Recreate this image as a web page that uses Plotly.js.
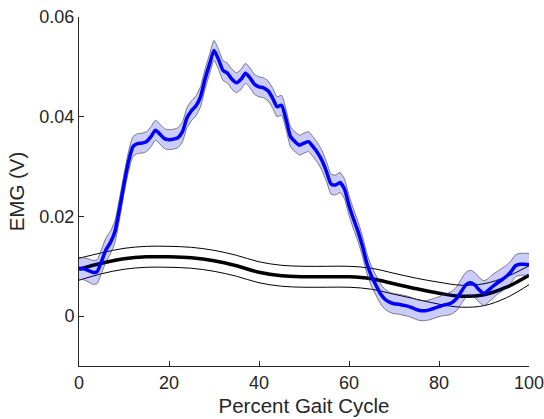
<!DOCTYPE html>
<html>
<head>
<meta charset="utf-8">
<script src="https://cdn.plot.ly/plotly-3.0.1.min.js"></script>
<style>html,body{margin:0;padding:0;background:#fff;}#chart{width:544px;height:419px;}</style>
</head>
<body>
<div id="chart"></div>
<script>
// Percent gait cycle for the blue (measured) EMG series
var xBlue = [];
for (var i = 0; i <= 100; i++) xBlue.push(i);
var blueMean = [
0.0096,0.0095,0.0092,0.0088,0.0089,0.0110,0.0133,0.0148,0.0170,0.0215,
0.0265,0.0310,0.0340,0.0346,0.0347,0.0350,0.0360,0.0373,0.0365,0.0356,
0.0354,0.0355,0.0358,0.0370,0.0398,0.0412,0.0422,0.0440,0.0475,0.0505,
0.0533,0.0515,0.0493,0.0487,0.0475,0.0468,0.0475,0.0487,0.0478,0.0465,
0.0460,0.0458,0.0452,0.0438,0.0420,0.0423,0.0395,0.0360,0.0350,0.0343,
0.0347,0.0350,0.0340,0.0328,0.0312,0.0290,0.0265,0.0263,0.0268,0.0255,
0.0222,0.0195,0.0170,0.0140,0.0105,0.0080,0.0062,0.0045,0.0034,0.0028,
0.0025,0.0024,0.0022,0.0020,0.0017,0.0013,0.0011,0.0011,0.0013,0.0016,
0.0019,0.0022,0.0024,0.0028,0.0036,0.0050,0.0063,0.0067,0.0062,0.0052,
0.0046,0.0052,0.0060,0.0067,0.0073,0.0080,0.0089,0.0101,0.0104,0.0104,
0.0103];
var blueSD = [
0.0022,0.0022,0.0023,0.0024,0.0024,0.0024,0.0024,0.0023,0.0022,0.0021,
0.0020,0.0020,0.0020,0.0020,0.0020,0.0020,0.0020,0.0020,0.0020,0.0020,
0.0020,0.0020,0.0020,0.0020,0.0020,0.0020,0.0020,0.0020,0.0020,0.0020,
0.0020,0.0020,0.0020,0.0020,0.0020,0.0020,0.0020,0.0020,0.0020,0.0020,
0.0020,0.0020,0.0020,0.0020,0.0020,0.0020,0.0020,0.0020,0.0020,0.0020,
0.0020,0.0020,0.0020,0.0020,0.0020,0.0020,0.0020,0.0020,0.0020,0.0020,
0.0020,0.0020,0.0020,0.0020,0.0020,0.0020,0.0020,0.0020,0.0020,0.0020,
0.0020,0.0020,0.0020,0.0020,0.0020,0.0020,0.0020,0.0020,0.0020,0.0020,
0.0020,0.0021,0.0022,0.0023,0.0024,0.0025,0.0025,0.0025,0.0025,0.0025,
0.0025,0.0024,0.0024,0.0023,0.0023,0.0022,0.0022,0.0022,0.0022,0.0022,
0.0022];
// Reference (black) series
var xBlack = [0,5,10,15,20,25,30,35,40,45,50,55,60,65,70,75,80,85,90,95,100];
var blackMean = [0.0094,0.0106,0.0115,0.0119,0.0119,0.0117,0.0111,0.0101,0.0088,0.0081,
0.0079,0.0079,0.0079,0.0075,0.0065,0.0055,0.0046,0.0040,0.0043,0.0058,0.0082];
var blackSD = [0.0022,0.0021,0.0021,0.0021,0.0021,0.0021,0.0021,0.0021,0.0021,0.0021,
0.0021,0.0021,0.0021,0.0021,0.0021,0.0021,0.0022,0.0022,0.0022,0.0021,0.0019];
var xTicks = [0,20,40,60,80,100];
var yTicks = [0,0.02,0.04,0.06];
var yTickText = ['0','0.02','0.04','0.06'];

var blueUp = blueMean.map(function(v,i){return v+blueSD[i];});
var blueLo = blueMean.map(function(v,i){return v-blueSD[i];});
var blackUp = blackMean.map(function(v,i){return v+blackSD[i];});
var blackLo = blackMean.map(function(v,i){return v-blackSD[i];});

var bandX = xBlue.concat(xBlue.slice().reverse());
var bandY = blueUp.concat(blueLo.slice().reverse());

var traces = [
  {x:xBlack, y:blackUp, mode:'lines', line:{color:'#000', width:1, shape:'spline'}, hoverinfo:'skip'},
  {x:xBlack, y:blackLo, mode:'lines', line:{color:'#000', width:1, shape:'spline'}, hoverinfo:'skip'},
  {x:xBlack, y:blackMean, mode:'lines', line:{color:'#000', width:3.5, shape:'spline'}},
  {x:bandX, y:bandY, mode:'lines', fill:'toself', fillcolor:'rgba(0,0,230,0.2)',
   line:{color:'rgba(60,60,60,0.8)', width:0.8, shape:'spline', smoothing:0.6}, hoverinfo:'skip'},
  {x:xBlue, y:blueMean, mode:'lines', line:{color:'#0000ff', width:3.5, shape:'spline', smoothing:0.6}}
];

var fam = '"Liberation Sans", Arial, Helvetica, sans-serif';
var tickFont = {family:fam, size:18, color:'#262626'};
var titleFont = {family:fam, size:20.5, color:'#262626'};
var layout = {
  width:544, height:419,
  margin:{l:79, r:15, t:17, b:53},
  paper_bgcolor:'#fff', plot_bgcolor:'#fff',
  showlegend:false,
  font:tickFont,
  xaxis:{
    range:[0,100], tickvals:xTicks, ticktext:xTicks.map(String),
    ticks:'inside', ticklen:5, tickcolor:'#262626', tickwidth:1,
    showline:true, linecolor:'#262626', linewidth:1, mirror:false,
    showgrid:false, zeroline:false, tickfont:tickFont, ticklabeloverflow:'allow',
    title:{text:'Percent Gait Cycle', font:titleFont, standoff:7}
  },
  yaxis:{
    range:[-0.01,0.06], tickvals:yTicks, ticktext:yTickText,
    ticks:'inside', ticklen:5, tickcolor:'#262626', tickwidth:1,
    showline:true, linecolor:'#262626', linewidth:1, mirror:false,
    showgrid:false, zeroline:false, tickfont:tickFont, ticklabeloverflow:'allow',
    title:{text:'EMG (V)', font:titleFont, standoff:9}
  }
};
Plotly.newPlot('chart', traces, layout, {staticPlot:true, displayModeBar:false});
</script>
</body>
</html>
